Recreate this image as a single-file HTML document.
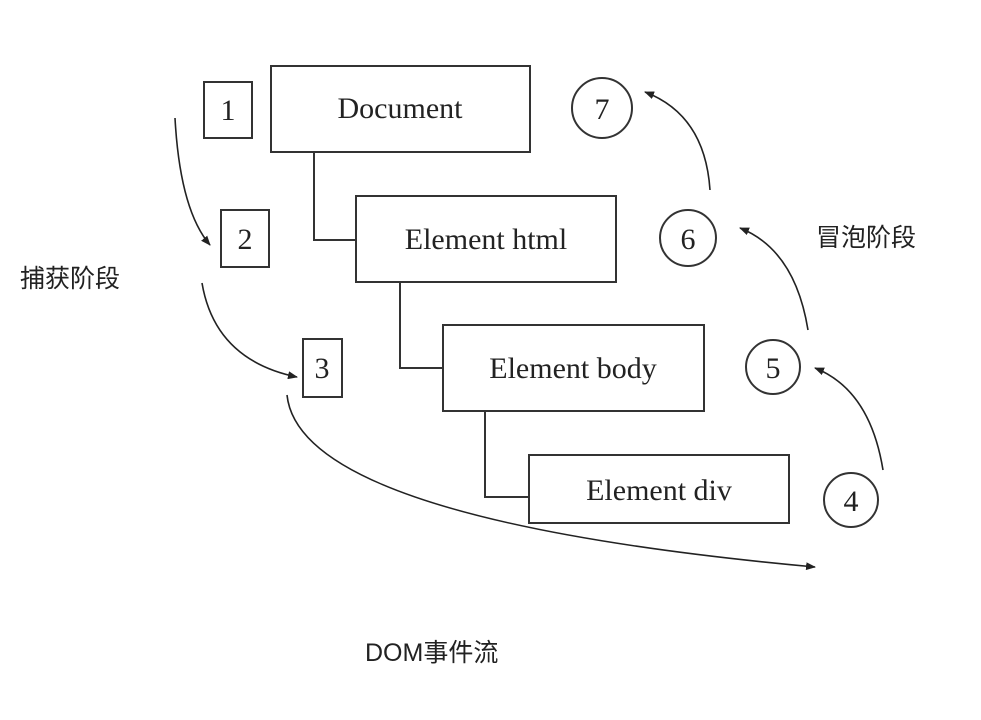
<!DOCTYPE html>
<html><head><meta charset="utf-8"><style>
html,body{margin:0;padding:0;background:#fff;}
svg{display:block}
</style></head><body>
<svg width="981" height="720" viewBox="0 0 981 720" xmlns="http://www.w3.org/2000/svg">
<defs><marker id="a" markerWidth="10" markerHeight="8" refX="9" refY="4" orient="auto" markerUnits="userSpaceOnUse"><path d="M0,0 L10,4 L0,8 Z" fill="#222"/></marker></defs>
<g fill="none" stroke="#333" stroke-width="2">
<rect x="271" y="66" width="259" height="86"/>
<rect x="356" y="196" width="260" height="86"/>
<rect x="443" y="325" width="261" height="86"/>
<rect x="529" y="455" width="260" height="68"/>
<rect x="204" y="82" width="48" height="56"/>
<rect x="221" y="210" width="48" height="57"/>
<rect x="303" y="339" width="39" height="58"/>
<circle cx="602" cy="108" r="30"/>
<circle cx="688" cy="238" r="28"/>
<circle cx="773" cy="367" r="27"/>
<circle cx="851" cy="500" r="27"/>
<polyline points="314,152 314,240 356,240"/>
<polyline points="400,282 400,368 443,368"/>
<polyline points="485,411 485,497 529,497"/>
</g>
<g fill="none" stroke="#222" stroke-width="1.6" marker-end="url(#a)">
<path d="M175,118 Q180,210 210,245"/>
<path d="M202,283 Q215,360 297,377"/>
<path d="M287,395 Q300,520 815,567"/>
<path d="M883,470 Q870,390 815,368"/>
<path d="M808,330 Q795,250 740,228"/>
<path d="M710,190 Q705,115 645,92"/>
</g>
<g font-family="Liberation Serif, serif" font-size="30" fill="#222" text-anchor="middle">
<text x="400" y="118">Document</text>
<text x="486" y="249">Element html</text>
<text x="573" y="378">Element body</text>
<text x="659" y="500">Element div</text>
<text x="228" y="120">1</text>
<text x="245" y="249">2</text>
<text x="322" y="378">3</text>
<text x="602" y="119">7</text>
<text x="688" y="249">6</text>
<text x="773" y="378">5</text>
<text x="851" y="511">4</text>
</g>
<g font-family="Liberation Sans, Noto Sans CJK SC, sans-serif" font-size="25" fill="#222">
<text x="20" y="287">捕获阶段</text>
<text x="816" y="246">冒泡阶段</text>
<text x="365" y="661">DOM事件流</text>
</g>
</svg>
</body></html>
